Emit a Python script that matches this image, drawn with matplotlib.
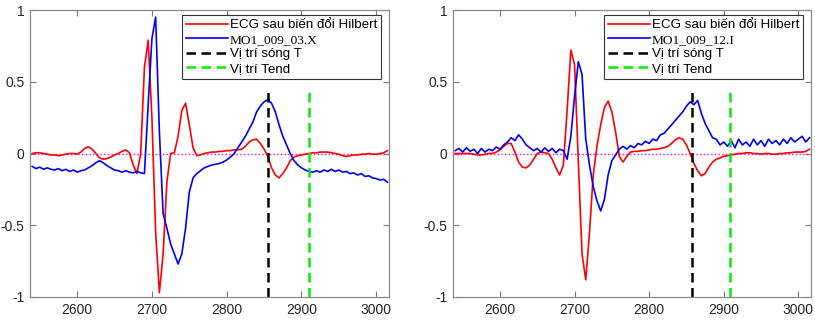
import numpy as np
import matplotlib
matplotlib.use('Agg')
from matplotlib import pyplot as plt

# sample index (every 5th sample)
x = np.arange(2540, 3016, 5)

# ---- left panel: MO1_009_03.X ----
ecg_left = [0.0, 0.005, 0.005, 0.0, -0.005, -0.01, -0.01, -0.015, -0.01, -0.005,
            0.0, 0.0, -0.005, 0.01, 0.035, 0.047, 0.03, 0.0, -0.03, -0.04,
            -0.035, -0.025, -0.01, 0.0, 0.015, 0.025, 0.005, -0.08, -0.14, 0.0,
            0.6, 0.79, 0.25, -0.55, -0.97, -0.7, -0.2, 0.0, 0.005, 0.12,
            0.3, 0.35, 0.2, 0.04, -0.015, -0.01, 0.0, 0.005, 0.01, 0.01,
            0.015, 0.015, 0.02, 0.02, 0.025, 0.025, 0.03, 0.05, 0.08, 0.095,
            0.1, 0.07, 0.03, -0.02, -0.1, -0.15, -0.17, -0.14, -0.1, -0.05,
            -0.025, -0.015, -0.01, -0.005, 0.0, 0.005, 0.005, 0.01, 0.01, 0.01,
            0.005, 0.0, -0.005, -0.015, -0.02, -0.015, -0.01, -0.01, -0.005, -0.005,
            0.0, -0.005, -0.005, 0.0, 0.005, 0.02]
sig_left = [-0.09, -0.105, -0.095, -0.11, -0.1, -0.11, -0.115, -0.105, -0.12, -0.11,
            -0.125, -0.115, -0.13, -0.12, -0.115, -0.1, -0.085, -0.065, -0.05, -0.065,
            -0.085, -0.1, -0.115, -0.12, -0.13, -0.12, -0.13, -0.135, -0.125, -0.135,
            -0.14, 0.34, 0.8, 0.95, 0.15, -0.42, -0.52, -0.63, -0.7, -0.77,
            -0.7, -0.52, -0.27, -0.17, -0.14, -0.12, -0.1, -0.09, -0.08, -0.075,
            -0.07, -0.06, -0.045, -0.025, 0.0, 0.04, 0.08, 0.12, 0.17, 0.22,
            0.29, 0.33, 0.36, 0.375, 0.35, 0.29, 0.2, 0.12, 0.06, 0.0,
            -0.05, -0.08, -0.1, -0.115, -0.125, -0.13, -0.12, -0.13, -0.115, -0.125,
            -0.11, -0.125, -0.115, -0.13, -0.125, -0.14, -0.135, -0.15, -0.14, -0.16,
            -0.155, -0.17, -0.175, -0.185, -0.18, -0.2]

# ---- right panel: MO1_009_12.I ----
ecg_right = [0.0, 0.0, 0.0, 0.0, 0.0, -0.005, -0.01, -0.01, -0.005, 0.0,
             0.0, 0.01, 0.025, 0.05, 0.07, 0.07, 0.01, -0.06, -0.095, -0.1,
             -0.08, -0.04, 0.0, 0.01, 0.005, 0.0, -0.04, -0.1, -0.15, -0.08,
             0.3, 0.72, 0.62, -0.05, -0.7, -0.88, -0.55, -0.15, 0.05, 0.2,
             0.32, 0.365, 0.29, 0.15, -0.02, -0.06, -0.02, 0.01, 0.015, 0.015,
             0.02, 0.02, 0.025, 0.03, 0.03, 0.035, 0.04, 0.05, 0.07, 0.095,
             0.11, 0.1, 0.06, 0.0, -0.07, -0.12, -0.155, -0.14, -0.095, -0.06,
             -0.04, -0.03, -0.02, -0.015, -0.01, -0.005, 0.0, 0.0, 0.005, 0.005,
             0.0, 0.0, -0.005, 0.0, 0.0, -0.005, -0.005, 0.0, 0.0, 0.005,
             0.005, 0.01, 0.01, 0.01, 0.015, 0.03]
sig_right = [0.02, 0.035, 0.01, 0.04, 0.015, 0.03, 0.0, 0.035, 0.01, 0.03,
             0.02, 0.045, 0.03, 0.06, 0.08, 0.11, 0.09, 0.13, 0.1, 0.06,
             0.04, 0.02, 0.035, 0.01, 0.04, 0.015, 0.035, 0.005, 0.03, 0.02,
             -0.04, 0.12, 0.4, 0.64, 0.55, 0.1, -0.08, -0.23, -0.33, -0.4,
             -0.32, -0.15, -0.05, -0.01, 0.03, 0.05, 0.03, 0.055, 0.04, 0.07,
             0.06, 0.085, 0.07, 0.1, 0.09, 0.13, 0.14, 0.17, 0.2, 0.23,
             0.26, 0.29, 0.33, 0.36, 0.34, 0.37, 0.28, 0.21, 0.16, 0.11,
             0.1, 0.06, 0.08, 0.05, 0.09, 0.04, 0.1, 0.06, 0.08, 0.05,
             0.1, 0.06, 0.09, 0.05, 0.1, 0.07, 0.09, 0.06, 0.1, 0.07,
             0.11, 0.08, 0.1, 0.12, 0.08, 0.11]

names = ['MO1_009_03.X', 'MO1_009_12.I']
t_pos = [2855, 2857]
tend_pos = [2910, 2909]
marker_top = 0.46

plt.rcParams['font.family'] = ['Liberation Sans', 'DejaVu Sans']

fig = plt.figure(figsize=(8.15, 3.2), dpi=100)
ax1 = fig.add_axes([30/815, 23/320, 359/815, 287/320])
ax2 = fig.add_axes([453/815, 23/320, 358/815, 287/320])

panels = [(ax1, ecg_left, sig_left), (ax2, ecg_right, sig_right)]
for k, (ax, ecg, sig) in enumerate(panels):
    ax.plot([2537, 3017], [0, 0], ':', color='magenta', lw=1.0)
    ax.plot(x, ecg, color='red', lw=1.2, label='ECG sau biến đổi Hilbert')
    ax.plot(x, sig, color='blue', lw=1.2, label=names[k])
    ax.plot([t_pos[k], t_pos[k]], [-1, marker_top], '--', color='black', lw=1.8,
            dashes=(3.8, 2.2), label='Vị trí sóng T')
    ax.plot([tend_pos[k], tend_pos[k]], [-1, marker_top], '--', color='#00ee00', lw=1.8,
            dashes=(3.8, 2.2), label='Vị trí Tend')
    ax.set_xlim(2537, 3017)
    ax.set_ylim(-1, 1)
    ax.set_xticks([2600, 2700, 2800, 2900, 3000])
    ax.set_yticks([-1, -0.5, 0, 0.5, 1])
    ax.set_yticklabels(['-1', '-0.5', '0', '0.5', '1'])
    ax.tick_params(direction='in', top=True, right=True, length=4, width=0.8,
                   labelsize=10, colors='#7a7a7a', labelcolor='#262626', pad=4)
    for sp in ax.spines.values():
        sp.set_color('#8a8a8a')
        sp.set_linewidth(0.9)
    handles, labels = ax.get_legend_handles_labels()
    leg = ax.legend(handles, labels, loc='upper right', bbox_to_anchor=(0.978, 0.983),
                    fontsize=9.6, frameon=True, fancybox=False, edgecolor='#333333',
                    framealpha=1, handlelength=3.1, handletextpad=0.15,
                    labelspacing=0.17, borderpad=0.3, borderaxespad=0.0)
    leg.get_frame().set_linewidth(0.8)
    leg.get_texts()[1].set_fontfamily(['Liberation Serif'])

fig.savefig('out.png', dpi=100)
